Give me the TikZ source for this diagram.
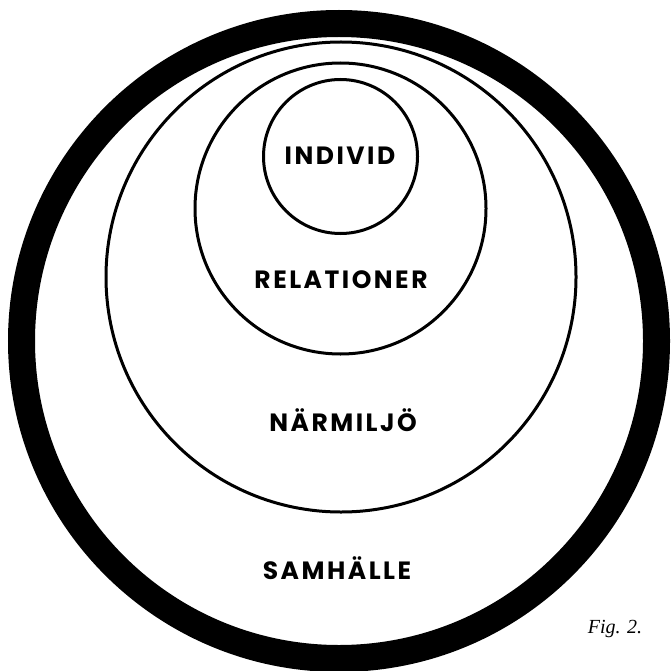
\documentclass[tikz,border=0pt]{standalone}
\usepackage{fontspec}
\newfontfamily\labelfont[LetterSpace=10]{Poppins}
\newfontfamily\figfont{Liberation Serif}
\tikzset{
  ring/.style={circle, draw=black, line width=27pt, inner sep=0pt},
  thinring/.style={circle, draw=black, line width=3pt, inner sep=0pt},
  lab/.style={font=\labelfont\bfseries\fontsize{25}{25}\selectfont, inner sep=0pt, anchor=center},
  figlab/.style={font=\figfont\itshape\fontsize{20}{20}\selectfont, inner sep=0pt}
}
\begin{document}
\begin{tikzpicture}[x=1pt,y=-1pt]
\useasboundingbox (0,0) rectangle (670,671);
\fill[white] (0,0) rectangle (670,671);
\clip (0,0) rectangle (670,671);
\node[ring, minimum size=635pt] (samhalle) at (339,341) {};
\node[thinring, minimum size=470pt] (narmiljo) at (341,277) {};
\node[thinring, minimum size=291pt] (relationer) at (340.5,208.5) {};
\node[thinring, minimum size=154pt] (individ) at (340.5,156.5) {};
\node[lab] (tindivid) at (340,156) {INDIVID};
\node[lab] (trelationer) at (341,280) {RELATIONER};
\node[lab] (tnarmiljo) at (343,420) {NÄRMILJÖ};
\node[lab] (tsamhalle) at (337,568) {SAMHÄLLE};
\node[figlab] (fig) at (615,629) {Fig. 2.};
\end{tikzpicture}
\end{document}
